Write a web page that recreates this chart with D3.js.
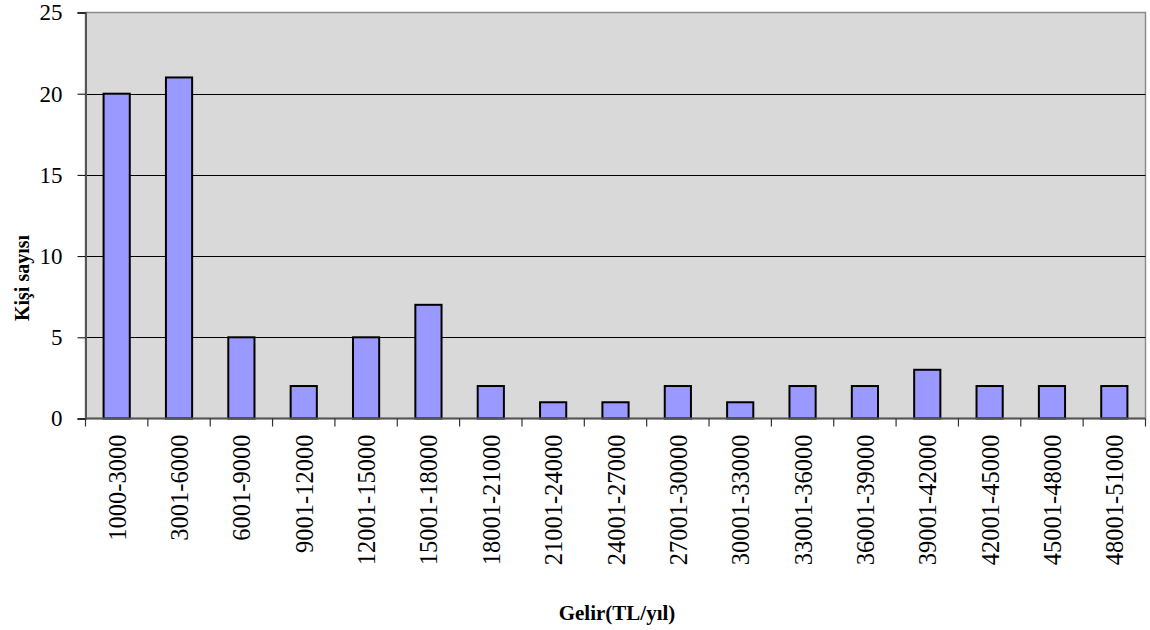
<!DOCTYPE html>
<html><head><meta charset="utf-8">
<script src="https://cdn.jsdelivr.net/npm/d3@7"></script>
<style>body{margin:0;background:#fff}</style>
</head><body>
<svg id="c" width="1150" height="630"></svg>
<script>
const categories = ["1000-3000","3001-6000","6001-9000","9001-12000","12001-15000","15001-18000","18001-21000","21001-24000","24001-27000","27001-30000","30001-33000","33001-36000","36001-39000","39001-42000","42001-45000","45001-48000","48001-51000"];
const values = [20,21,5,2,5,7,2,1,1,2,1,2,2,3,2,2,2];
const yTicks = [0,5,10,15,20,25];
const xTitle = "Gelir(TL/yıl)";
const yTitle = "Kişi sayısı";

const svg = d3.select("#c");
const L = 85.5, R = 1145.5, T = 12.5, B = 418.5;
const font = "'Liberation Serif','Times New Roman',serif";

const x = d3.scaleBand().domain(categories).range([L, R]).paddingInner(0.58).paddingOuter(0.29);
const y = d3.scaleLinear().domain([0, 25]).range([B, T]);

svg.append("rect").attr("x", L).attr("y", T).attr("width", R - L).attr("height", B - T)
  .attr("fill", "#d9d9d9").attr("stroke", "#8c8c8c").attr("stroke-width", 1.5);

svg.append("g").selectAll("line").data(yTicks.filter(d => d > 0 && d < 25)).join("line")
  .attr("x1", L).attr("x2", R).attr("y1", d => Math.round(y(d)) + 0.5).attr("y2", d => Math.round(y(d)) + 0.5)
  .attr("stroke", "#000").attr("stroke-width", 1);

svg.append("g").selectAll("rect").data(values).join("rect")
  .attr("x", (d, i) => x(categories[i]))
  .attr("width", x.bandwidth())
  .attr("y", d => y(d))
  .attr("height", d => B - y(d))
  .attr("fill", "#9999ff").attr("stroke", "#000").attr("stroke-width", 2);

// y axis
const ya = svg.append("g").attr("transform", `translate(${L},0)`)
  .call(d3.axisLeft(y).tickValues(yTicks).tickSize(8).tickPadding(15));
ya.select(".domain").attr("stroke", "#555").attr("stroke-width", 2);
ya.selectAll(".tick line").attr("stroke", "#000");
ya.selectAll("text").attr("font-family", font).attr("font-size", 23).attr("fill", "#000");

// x axis
const xStep = x.step();
const xa = svg.append("g").attr("transform", `translate(0,${B})`);
xa.append("line").attr("x1", L).attr("x2", R).attr("y1", 0).attr("y2", 0).attr("stroke", "#555").attr("stroke-width", 2);
const bounds = d3.range(categories.length + 1).map(i => L + i * xStep);
xa.selectAll("line.t").data(bounds).join("line").attr("class", "t")
  .attr("x1", d => d).attr("x2", d => d).attr("y1", 0).attr("y2", 8).attr("stroke", "#333").attr("stroke-width", 1.2);
xa.selectAll("text").data(categories).join("text")
  .attr("transform", d => `translate(${x(d) + x.bandwidth() / 2 + 9},${16}) rotate(-90)`)
  .attr("text-anchor", "end")
  .attr("font-family", font).attr("font-size", 24.5).attr("fill", "#000")
  .text(d => d);

svg.append("text").attr("x", 617).attr("y", 620).attr("text-anchor", "middle")
  .attr("font-family", font).attr("font-size", 21).attr("font-weight", "bold").text(xTitle);
svg.append("text").attr("transform", "translate(29,278) rotate(-90)").attr("text-anchor", "middle")
  .attr("font-family", font).attr("font-size", 20).attr("font-weight", "bold").text(yTitle);
</script>
</body></html>
